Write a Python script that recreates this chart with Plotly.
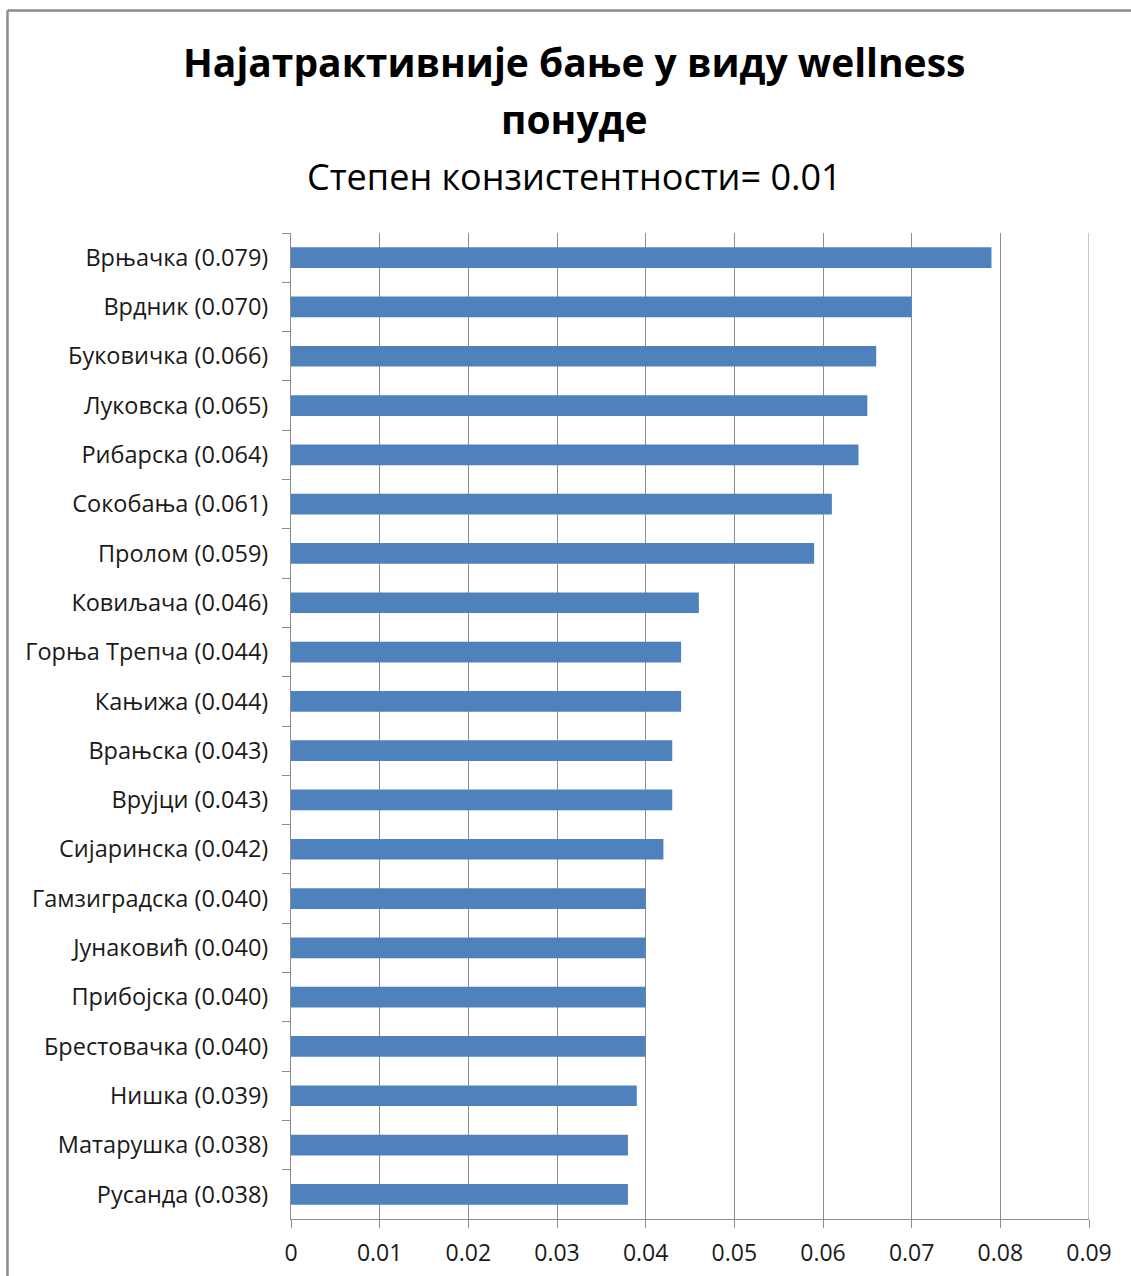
import plotly.graph_objects as go

names = ["Врњачка", "Врдник", "Буковичка", "Луковска", "Рибарска", "Сокобања", "Пролом",
         "Ковиљача", "Горња Трепча", "Кањижа", "Врањска", "Врујци", "Сијаринска",
         "Гамзиградска", "Јунаковић", "Прибојска", "Брестовачка", "Нишка", "Матарушка", "Русанда"]
values = [0.079, 0.070, 0.066, 0.065, 0.064, 0.061, 0.059, 0.046, 0.044, 0.044,
          0.043, 0.043, 0.042, 0.040, 0.040, 0.040, 0.040, 0.039, 0.038, 0.038]
labels = [f"{n} ({v:.3f})" for n, v in zip(names, values)]
x_ticks = [0, 0.01, 0.02, 0.03, 0.04, 0.05, 0.06, 0.07, 0.08, 0.09]
x_ticklabels = ["0", "0.01", "0.02", "0.03", "0.04", "0.05", "0.06", "0.07", "0.08", "0.09"]

title_line1 = "Најатрактивније бање у виду wellness"
title_line2 = "понуде"
subtitle = "Степен конзистентности= 0.01"

FONT = "Open Sans"
GRID = "#8c8c8c"
W, H = 1131, 1276
L, R, T, B = 291, 42, 233, 57
pw, ph = W - L - R, H - T - B

def px_x(px):
    return (px - L) / pw

def px_y(py):
    return (H - B - py) / ph

fig = go.Figure(go.Bar(
    x=values, y=labels, orientation="h",
    marker=dict(color="#4F81BD", line=dict(width=0)),
    width=0.42,
))

fig.update_layout(
    width=W, height=H,
    margin=dict(l=L, r=R, t=T, b=B),
    paper_bgcolor="white", plot_bgcolor="white",
    showlegend=False,
    font=dict(family=FONT, color="#1a1a1a", size=23),
    xaxis=dict(
        range=[0, x_ticks[-1]], tickvals=x_ticks, ticktext=x_ticklabels,
        showgrid=True, gridcolor=GRID, gridwidth=1,
        showline=True, linecolor=GRID, linewidth=1,
        ticks="outside", ticklen=8, tickcolor=GRID,
        ticklabelstandoff=5, automargin=False,
        zeroline=False, tickfont=dict(size=23, family=FONT, color="#1a1a1a"),
    ),
    yaxis=dict(
        autorange="reversed", type="category",
        showgrid=False, showline=True, linecolor=GRID, linewidth=1,
        ticks="outside", ticklen=8, tickcolor=GRID, tickson="boundaries",
        ticklabelstandoff=17, automargin=False,
        tickfont=dict(size=23.5, family=FONT, color="#1a1a1a"),
    ),
    annotations=[
        dict(text=f"<b>{title_line1}</b>", x=px_x(574), y=px_y(61), xref="paper", yref="paper",
             showarrow=False, xanchor="center", yanchor="middle",
             font=dict(size=39, family=FONT, color="#000000")),
        dict(text=f"<b>{title_line2}</b>", x=px_x(574), y=px_y(118), xref="paper", yref="paper",
             showarrow=False, xanchor="center", yanchor="middle",
             font=dict(size=39, family=FONT, color="#000000")),
        dict(text=subtitle, x=px_x(574), y=px_y(176), xref="paper", yref="paper",
             showarrow=False, xanchor="center", yanchor="middle",
             font=dict(size=36, family=FONT, color="#000000")),
    ],
    shapes=[
        # last vertical gridline at the right edge of the plot area
        dict(type="line", xref="x", yref="paper", x0=x_ticks[-1], x1=x_ticks[-1],
             y0=0, y1=1, line=dict(color=GRID, width=1), layer="below"),
        # chart frame (top and left edges visible)
        dict(type="line", xref="paper", yref="paper", x0=px_x(7.5), x1=px_x(1200),
             y0=px_y(10.5), y1=px_y(10.5), line=dict(color=GRID, width=2.5)),
        dict(type="line", xref="paper", yref="paper", x0=px_x(7.5), x1=px_x(7.5),
             y0=px_y(10.5), y1=px_y(1350), line=dict(color=GRID, width=2.5)),
    ],
)

fig.write_html("out.html")
